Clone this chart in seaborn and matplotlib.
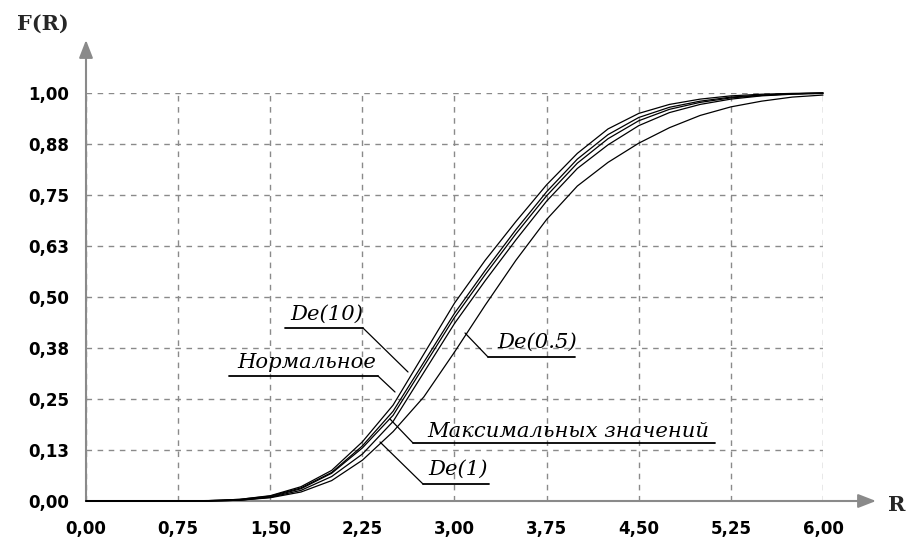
import numpy as np
import pandas as pd
import seaborn as sns
import matplotlib
matplotlib.use("Agg")
import matplotlib.pyplot as plt

# ---------------- data ----------------
R = [0.0, 0.5, 1.0, 1.25, 1.5, 1.75, 2.0, 2.25, 2.5, 2.75, 3.0, 3.25,
     3.5, 3.75, 4.0, 4.25, 4.5, 4.75, 5.0, 5.25, 5.5, 5.75, 6.0]

F_de10 = [0, 0, 0.001, 0.004, 0.013, 0.035, 0.075, 0.145, 0.235, 0.36, 0.485, 0.59,
          0.685, 0.775, 0.852, 0.912, 0.95, 0.972, 0.985, 0.993, 0.997, 0.999, 1.0]
F_norm = [0, 0, 0.001, 0.004, 0.012, 0.032, 0.07, 0.135, 0.22, 0.34, 0.46, 0.565,
          0.665, 0.758, 0.838, 0.898, 0.94, 0.965, 0.98, 0.99, 0.995, 0.998, 1.0]
F_max = [0, 0, 0.0, 0.002, 0.01, 0.03, 0.068, 0.13, 0.21, 0.33, 0.45, 0.555,
         0.655, 0.748, 0.828, 0.888, 0.932, 0.96, 0.977, 0.988, 0.994, 0.998, 1.0]
F_de1 = [0, 0, 0.0, 0.002, 0.009, 0.026, 0.06, 0.115, 0.195, 0.315, 0.435, 0.54,
         0.64, 0.735, 0.815, 0.873, 0.92, 0.952, 0.972, 0.985, 0.993, 0.997, 0.999]
F_de05 = [0, 0, 0.0, 0.002, 0.008, 0.022, 0.05, 0.10, 0.17, 0.255, 0.365, 0.48,
          0.59, 0.69, 0.772, 0.83, 0.877, 0.915, 0.945, 0.966, 0.98, 0.99, 0.995]

series_names = ["De(10)", "Нормальное", "Максимальных значений", "De(1)", "De(0.5)"]
series_values = [F_de10, F_norm, F_max, F_de1, F_de05]

x_ticks = [0.0, 0.75, 1.5, 2.25, 3.0, 3.75, 4.5, 5.25, 6.0]
x_tick_labels = ["0,00", "0,75", "1,50", "2,25", "3,00", "3,75", "4,50", "5,25", "6,00"]
y_ticks = [0.0, 0.125, 0.25, 0.375, 0.5, 0.625, 0.75, 0.875, 1.0]
y_tick_labels = ["0,00", "0,13", "0,25", "0,38", "0,50", "0,63", "0,75", "0,88", "1,00"]

df = pd.concat(
    [pd.DataFrame({"R": R, "F": v, "series": n}) for n, v in zip(series_names, series_values)],
    ignore_index=True)

# ---------------- figure ----------------
sns.set_theme(style="white")
W, H = 909, 539
fig = plt.figure(figsize=(W / 100, H / 100), dpi=100)
x0px, x1px, y0px, y1px = 86, 823, 501, 93
ax = fig.add_axes([x0px / W, (H - y0px) / H, (x1px - x0px) / W, (y0px - y1px) / H])

GRAY = "#8a8a8a"
sns.lineplot(data=df, x="R", y="F", hue="series", palette=["black"] * 5,
             legend=False, ax=ax, linewidth=0.9, zorder=5, clip_on=False)

ax.set_xlim(0, 6)
ax.set_ylim(0, 1)
ax.set_xlabel("")
ax.set_ylabel("")
for s in ax.spines.values():
    s.set_visible(False)

ax.set_xticks(x_ticks)
ax.set_xticklabels(x_tick_labels)
ax.set_yticks(y_ticks)
ax.set_yticklabels(y_tick_labels)
ax.grid(True, color=GRAY, linestyle=(0, (4, 4)), linewidth=1.0)
ax.tick_params(axis="both", which="both", length=5, width=1, color=GRAY,
               direction="out", labelsize=12, labelcolor="black")
ax.tick_params(axis="x", pad=9)
ax.tick_params(axis="y", pad=7)
for lab in ax.get_xticklabels() + ax.get_yticklabels():
    lab.set_fontfamily("DejaVu Sans")
    lab.set_fontweight("bold")


def px2d(px, py):
    return ((px - x0px) / (x1px - x0px) * 6.0, (y0px - py) / (y0px - y1px))


# axis arrows
ax.annotate("", xy=px2d(876, y0px), xytext=px2d(x0px, y0px),
            arrowprops=dict(arrowstyle="-|>,head_length=0.9,head_width=0.35",
                            color=GRAY, lw=1.5, shrinkA=0, shrinkB=0),
            annotation_clip=False, zorder=3)
ax.annotate("", xy=px2d(x0px, 40), xytext=px2d(x0px, y0px),
            arrowprops=dict(arrowstyle="-|>,head_length=0.9,head_width=0.35",
                            color=GRAY, lw=1.5, shrinkA=0, shrinkB=0),
            annotation_clip=False, zorder=3)

# axis titles
fig.text(43 / W, 1 - 24 / H, "F(R)", ha="center", va="center",
         fontsize=15, fontweight="bold", family="DejaVu Serif")
fig.text(897 / W, 1 - 505 / H, "R", ha="center", va="center",
         fontsize=15, fontweight="bold", family="DejaVu Serif")

# curve labels with underline and leader line (pixel positions)
labels = [
    ("De(10)", 290, 320, (285, 363, 328), ("right", 408, 372)),
    ("Нормальное", 237, 368, (229, 378, 376), ("right", 395, 392)),
    ("Максимальных значений", 427, 437, (413, 715, 443), ("left", 390, 419)),
    ("De(1)", 428, 475, (423, 489, 484), ("left", 380, 442)),
    ("De(0.5)", 497, 348, (488, 575, 357), ("left", 465, 333)),
]
for txt, tx, ty, (ux0, ux1, uy), (side, lx, ly) in labels:
    ax.text(*px2d(tx, ty), txt, ha="left", va="baseline", fontsize=15.2,
            family="DejaVu Serif", style="italic", color="black", zorder=6)
    sx = ux1 if side == "right" else ux0
    pts = [px2d(ux0, uy), px2d(ux1, uy)]
    ax.plot([pts[0][0], pts[1][0]], [pts[0][1], pts[1][1]], color="black", lw=1.3,
            clip_on=False, zorder=6)
    a, b = px2d(sx, uy), px2d(lx, ly)
    ax.plot([a[0], b[0]], [a[1], b[1]], color="black", lw=0.9, clip_on=False, zorder=6)

fig.savefig("out.png", dpi=100)
